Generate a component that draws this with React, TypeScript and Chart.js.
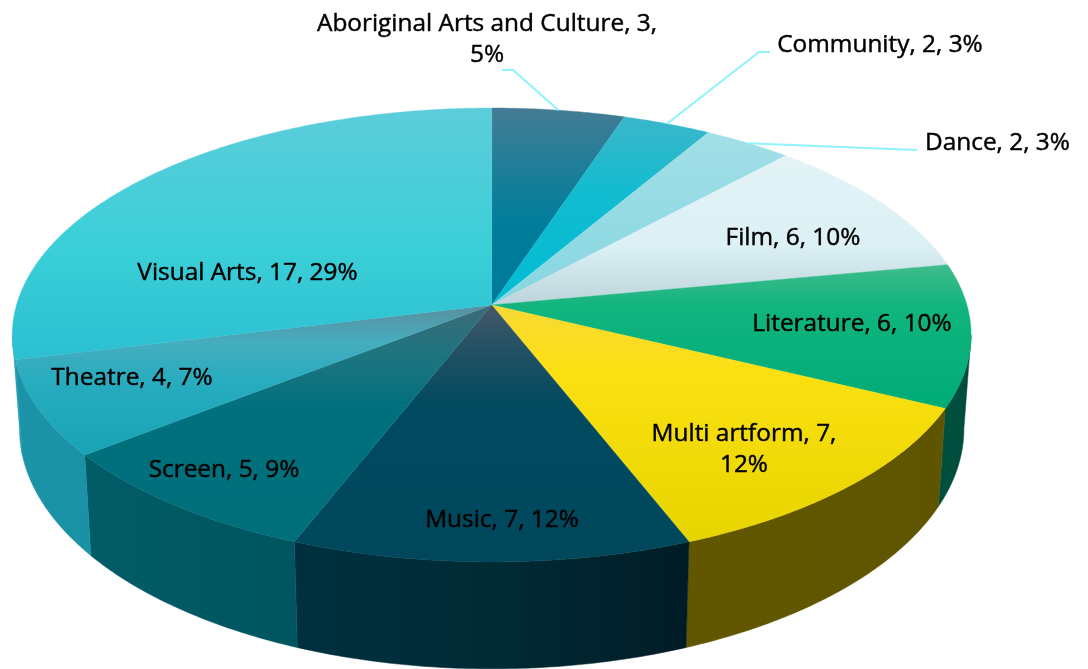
import React, { useEffect, useRef } from "react";
import { Chart, registerables } from "chart.js";

Chart.register(...registerables);

const categories = ["Aboriginal Arts and Culture", "Community", "Dance", "Film", "Literature", "Multi artform", "Music", "Screen", "Theatre", "Visual Arts"];
const counts = [3, 2, 2, 6, 6, 7, 7, 5, 4, 17];
const percents = [5, 3, 3, 10, 10, 12, 12, 9, 7, 29];

const topStops: [number, string][][] = [
  [[0, "#447c94"], [0.3, "#1f7e99"], [0.6, "#007d9b"], [1, "#007a96"]],
  [[0, "#3cb6ca"], [0.4, "#12bcd0"], [1, "#00bcd4"]],
  [[0, "#a3dfe7"], [1, "#85d6e1"]],
  [[0, "#e2f3f6"], [0.6, "#dcf1f5"], [1, "#bcd4da"]],
  [[0, "#40bc8d"], [0.3, "#10b47e"], [1, "#00ab76"]],
  [[0, "#f8d935"], [0.3, "#fbe010"], [1, "#e6d400"]],
  [[0, "#44586a"], [0.2, "#1e5063"], [0.4, "#004a60"], [1, "#00475b"]],
  [[0, "#3e6a78"], [0.2, "#1f7480"], [0.45, "#00707e"], [1, "#006f7a"]],
  [[0, "#5a8f9e"], [0.25, "#45adbe"], [0.5, "#28acbf"], [1, "#18a4b6"]],
  [[0, "#5ccdda"], [0.55, "#3bcfd8"], [1, "#2bbfd2"]],
];
const wallStops: string[][] = [
  ["#00485a", "#00485a"],
  ["#007a8c", "#007a8c"],
  ["#5f8f96", "#5f8f96"],
  ["#7d8f93", "#7d8f93"],
  ["#00503f", "#004c3d"],
  ["#625700", "#5f5500"],
  ["#00303f", "#002b35", "#001c26"],
  ["#025c67", "#00555f"],
  ["#1b93a8", "#1a92a5"],
  ["#2aa6ba", "#1f9db2"],
];

const labelLines: string[][] = categories.map((c, i) => {
  const text = `${c}, ${counts[i]}, ${percents[i]}%`;
  if (i === 0) return [`${c}, ${counts[i]},`, `${percents[i]}%`];
  if (i === 5) return [`${c}, ${counts[i]},`, `${percents[i]}%`];
  return [text];
});
const labelCenters = [487, 880, 997.5, 793, 852, 744, 502, 224, 132, 247.5];
const labelBaselines = [31, 52, 150, 245, 331, 441, 527, 477, 385, 280];
const leaderElbows: ([number, number][] | null)[] = [
  [[513, 70], [502, 70]],
  [[759, 52], [770, 52]],
  [[917, 150]],
  null, null, null, null, null, null, null,
];

const LEADER = "#8ff3fb";
const FONT = "500 24.4px 'Open Sans'";
const CX = 491.7, CY = 305, RX = 475.2, RY = 223, K = 0.132;
const WALL_SCALE = 0.985, WALL_STRETCH = 1.058, WALL_DROP = 92;

const project = (a: number): [number, number] => {
  const u = Math.cos(a), v = Math.sin(a);
  const s = 1 / (1 - K * v);
  return [CX + RX * u * s, CY + RY * v * s];
};
const drop = ([x, y]: [number, number]): [number, number] => [
  CX + (x - CX) * WALL_SCALE,
  CY + (y - CY) * WALL_STRETCH + WALL_DROP,
];
const sample = (a0: number, a1: number) => {
  const n = Math.max(2, Math.ceil((a1 - a0) / 0.01));
  const pts: [number, number][] = [];
  for (let i = 0; i <= n; i++) pts.push(project(a0 + ((a1 - a0) * i) / n));
  return pts;
};

const pie3d = {
  id: "pie3d",
  beforeDatasetsDraw(chart: any) {
    const ctx: CanvasRenderingContext2D = chart.ctx;
    const arcs = chart.getDatasetMeta(0).data;
    const visFrom = Math.asin(K), visTo = Math.PI - Math.asin(K);
    arcs.forEach((arc: any, i: number) => {
      const a0 = Math.max(arc.startAngle, visFrom);
      const a1 = Math.min(arc.endAngle, visTo);
      if (a1 <= a0) return;
      const top = sample(a0, a1);
      const bottom = top.map(drop).reverse();
      const xs = top.map((p) => p[0]);
      const g = ctx.createLinearGradient(Math.min(...xs), 0, Math.max(...xs), 0);
      wallStops[i].forEach((c, k) => g.addColorStop(k / (wallStops[i].length - 1), c));
      ctx.beginPath();
      [...top, ...bottom].forEach((p, k) => (k ? ctx.lineTo(p[0], p[1]) : ctx.moveTo(p[0], p[1])));
      ctx.closePath();
      ctx.fillStyle = g;
      ctx.fill();
      ctx.strokeStyle = g;
      ctx.lineWidth = 0.5;
      ctx.stroke();
    });
    arcs.forEach((arc: any, i: number) => {
      const rim = sample(arc.startAngle, arc.endAngle);
      const ys = [CY, ...rim.map((p) => p[1])];
      const g = ctx.createLinearGradient(0, Math.min(...ys), 0, Math.max(...ys));
      topStops[i].forEach(([o, c]) => g.addColorStop(o, c));
      ctx.beginPath();
      ctx.moveTo(CX, CY);
      rim.forEach((p) => ctx.lineTo(p[0], p[1]));
      ctx.closePath();
      ctx.fillStyle = g;
      ctx.fill();
      ctx.strokeStyle = g;
      ctx.lineWidth = 0.4;
      ctx.stroke();
    });
    return false;
  },
  afterDraw(chart: any) {
    const ctx: CanvasRenderingContext2D = chart.ctx;
    const arcs = chart.getDatasetMeta(0).data;
    ctx.save();
    arcs.forEach((arc: any, i: number) => {
      const elbow = leaderElbows[i];
      if (!elbow) return;
      const p = project((arc.startAngle + arc.endAngle) / 2);
      ctx.beginPath();
      ctx.moveTo(p[0], p[1]);
      elbow.forEach((q) => ctx.lineTo(q[0], q[1]));
      ctx.strokeStyle = LEADER;
      ctx.lineWidth = 2;
      ctx.stroke();
    });
    ctx.font = FONT;
    ctx.fillStyle = "#000000";
    ctx.strokeStyle = "#000000";
    ctx.lineWidth = 0.45;
    ctx.lineJoin = "round";
    ctx.textAlign = "center";
    ctx.textBaseline = "alphabetic";
    labelLines.forEach((lines, i) => {
      lines.forEach((line, k) => {
        ctx.fillText(line, labelCenters[i], labelBaselines[i] + k * 30.5);
        ctx.strokeText(line, labelCenters[i], labelBaselines[i] + k * 30.5);
      });
    });
    ctx.restore();
  },
};

export default function App() {
  const ref = useRef<HTMLCanvasElement>(null);
  useEffect(() => {
    const chart = new Chart(ref.current!, {
      type: "pie",
      data: { labels: categories, datasets: [{ data: counts, borderWidth: 0 }] },
      options: {
        animation: false,
        responsive: false,
        events: [],
        plugins: { legend: { display: false }, tooltip: { enabled: false } },
      },
      plugins: [pie3d],
    } as any);
    return () => chart.destroy();
  }, []);
  return (
    <div style={{ position: "absolute", left: 0, top: 0, width: 1088, height: 669, overflow: "hidden", background: "#fff" }}>
      <canvas ref={ref} width={1088} height={669} style={{ display: "block" }} />
    </div>
  );
}
